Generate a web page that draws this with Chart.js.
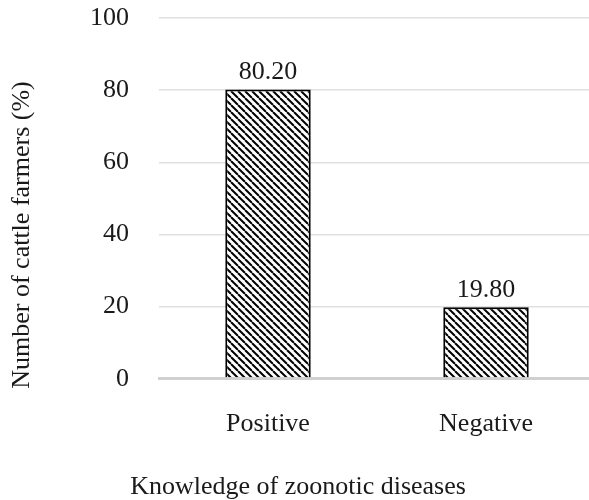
<!DOCTYPE html>
<html>
<head>
<meta charset="utf-8">
<script src="https://cdn.jsdelivr.net/npm/chart.js@4"></script>
<style>
  html, body { margin: 0; padding: 0; background: #fff; overflow: hidden; }
  #wrap { width: 595px; height: 500px; }
</style>
</head>
<body>
<div id="wrap"><canvas id="knowledge-chart"></canvas></div>
<script>
const categories = ['Positive', 'Negative'];
const farmerPercent = [80.20, 19.80];
const yTicks = [0, 20, 40, 60, 80, 100];

const fontFamily = '"Liberation Serif", "Times New Roman", serif';
const textColor = '#1a1a1a';

// diagonal hatch fill like the original
function makeHatch() {
    const s = 7;
    const c = document.createElement('canvas');
    c.width = s;
    c.height = s;
    const g = c.getContext('2d');
    g.fillStyle = '#fff';
    g.fillRect(0, 0, s, s);
    g.strokeStyle = '#000';
    g.lineWidth = 2;
    for (const k of [-s, 0, s]) {
        g.beginPath();
        g.moveTo(k, 0);
        g.lineTo(k + s, s);
        g.stroke();
    }
    return g.createPattern(c, 'repeat');
}

const valueLabels = {
    id: 'valueLabels',
    afterDatasetsDraw(chart) {
        const ctx = chart.ctx;
        const meta = chart.getDatasetMeta(0);
        ctx.save();
        ctx.font = '26px ' + fontFamily;
        ctx.fillStyle = textColor;
        ctx.textAlign = 'center';
        ctx.textBaseline = 'bottom';
        meta.data.forEach((bar, i) => {
            ctx.fillText(farmerPercent[i].toFixed(2), bar.x, bar.y - 4);
        });
        ctx.restore();
    }
};

const axisTitles = {
    id: 'axisTitles',
    afterDraw(chart) {
        const ctx = chart.ctx;
        const area = chart.chartArea;
        ctx.save();
        ctx.font = '26px ' + fontFamily;
        ctx.fillStyle = textColor;
        ctx.textAlign = 'center';
        ctx.textBaseline = 'middle';
        ctx.fillText('Knowledge of zoonotic diseases', area.left + 139, area.bottom + 108);
        ctx.translate(area.left - 137, area.top + 217);
        ctx.rotate(-Math.PI / 2);
        ctx.fillText('Number of cattle farmers (%)', 0, 0);
        ctx.restore();
    }
};

new Chart(document.getElementById('knowledge-chart'), {
    type: 'bar',
    data: {
        labels: categories,
        datasets: [{
            data: farmerPercent,
            backgroundColor: makeHatch(),
            borderColor: '#000',
            borderWidth: 2,
            categoryPercentage: 0.8,
            barPercentage: 0.49
        }]
    },
    options: {
        responsive: true,
        maintainAspectRatio: false,
        animation: false,
        layout: { padding: { left: 60, top: 0, bottom: 38, right: 0 } },
        plugins: {
            legend: { display: false },
            tooltip: { enabled: false }
        },
        scales: {
            x: {
                grid: { display: false },
                border: { display: true, color: '#d0d0d0', width: 3 },
                ticks: {
                    color: textColor,
                    padding: 22,
                    font: { family: fontFamily, size: 26 }
                }
            },
            y: {
                min: 0,
                max: 100,
                afterBuildTicks(scale) {
                    scale.ticks = yTicks.map(v => ({ value: v }));
                },
                afterFit(scale) {
                    // tick padding is meant as a horizontal gap only
                    scale.paddingTop = 18;
                    scale.paddingBottom = 15;
                },
                border: { display: false },
                grid: {
                    drawTicks: false,
                    color: ctx => ctx.tick && ctx.tick.value === 0 ? '#d0d0d0' : '#e0e0e0',
                    lineWidth: ctx => ctx.tick && ctx.tick.value === 0 ? 3 : 1.5
                },
                ticks: {
                    color: textColor,
                    padding: 30,
                    font: { family: fontFamily, size: 26 }
                }
            }
        }
    },
    plugins: [valueLabels, axisTitles]
});
</script>
</body>
</html>
